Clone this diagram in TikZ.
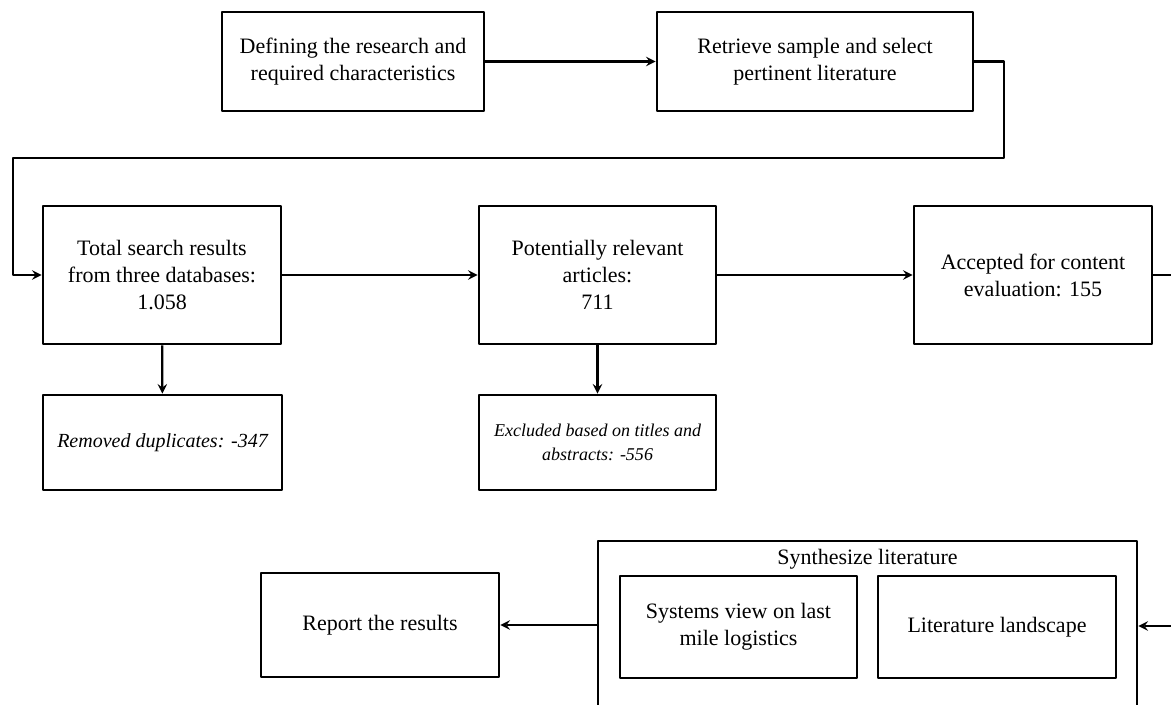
\documentclass[tikz,border=0pt]{standalone}
\usepackage{fontspec}
\setmainfont{Liberation Serif}
\begin{document}
\begin{tikzpicture}[>=stealth,line join=round,x=0.5pt,y=-0.5pt,
	box/.style={draw,line width=1.4pt,align=center,inner sep=0pt,
		font=\fontsize{11}{13.5}\selectfont},
	note/.style={box,font=\fontsize{10}{12.5}\selectfont\itshape},
	conn/.style={line width=1.1pt}]
	\clip (0,0) rectangle (1171,705);
	
	\node[box,minimum width=131pt,minimum height=49.5pt] (def) at (353,61.5) {Defining the research and\\required characteristics};
	\node[box,minimum width=158pt,minimum height=49.5pt] (ret) at (815,61.5) {Retrieve sample and select\\pertinent literature};
	
	\node[box,minimum width=119pt,minimum height=69pt] (tot) at (162,275) {Total search results\\from three databases:\\1.058};
	\node[box,minimum width=118.5pt,minimum height=69pt] (pot) at (597.5,275) {Potentially relevant\\articles:\\711};
	\node[box,minimum width=119pt,minimum height=69pt] (acc) at (1033,275) {Accepted for content\\evaluation: 155};
	
	\node[note,minimum width=119.5pt,minimum height=47.5pt] (dup) at (162.5,442.5) {Removed duplicates: -347};
	\node[note,minimum width=118.5pt,minimum height=47.5pt,font=\fontsize{9}{12}\selectfont\itshape] (exc) at (597.5,442.5) {Excluded based on titles and\\abstracts: -556};
	
	% synthesis block (cut off at the bottom)
	\node[box,minimum width=269.5pt,minimum height=100pt] (syn) at (867.5,641) {};
	\node[font=\fontsize{11}{13.5}\selectfont,inner sep=0pt] (syntit) at (867.5,559) {Synthesize literature};
	\node[box,minimum width=118.5pt,minimum height=51pt] (sys) at (738.5,627) {Systems view on last\\mile logistics};
	\node[box,minimum width=119pt,minimum height=51pt] (land) at (997,627) {Literature landscape};
	\node[box,minimum width=119pt,minimum height=52pt] (rep) at (380,625) {Report the results};
	
	\coordinate (k1) at (1004,158);
	\coordinate (k2) at (13,158);
	\coordinate (out) at (1180,275);
	\coordinate (in) at (1180,626);
	
	\draw[conn,->] (def) -- (ret);
	\draw[conn,->] (ret.east) -| (k1) -- (k2) |- (tot.west);
	\draw[conn,->] (tot) -- (pot);
	\draw[conn,->] (pot) -- (acc);
	\draw[conn] (acc.east) -- (out);
	\draw[conn,->] (tot) -- (dup);
	\draw[conn,->] (pot) -- (exc);
	\draw[conn,->] (in) -- (in -| syn.east);
	\draw[conn,->] (syn.west |- rep.east) -- (rep.east);
\end{tikzpicture}
\end{document}
